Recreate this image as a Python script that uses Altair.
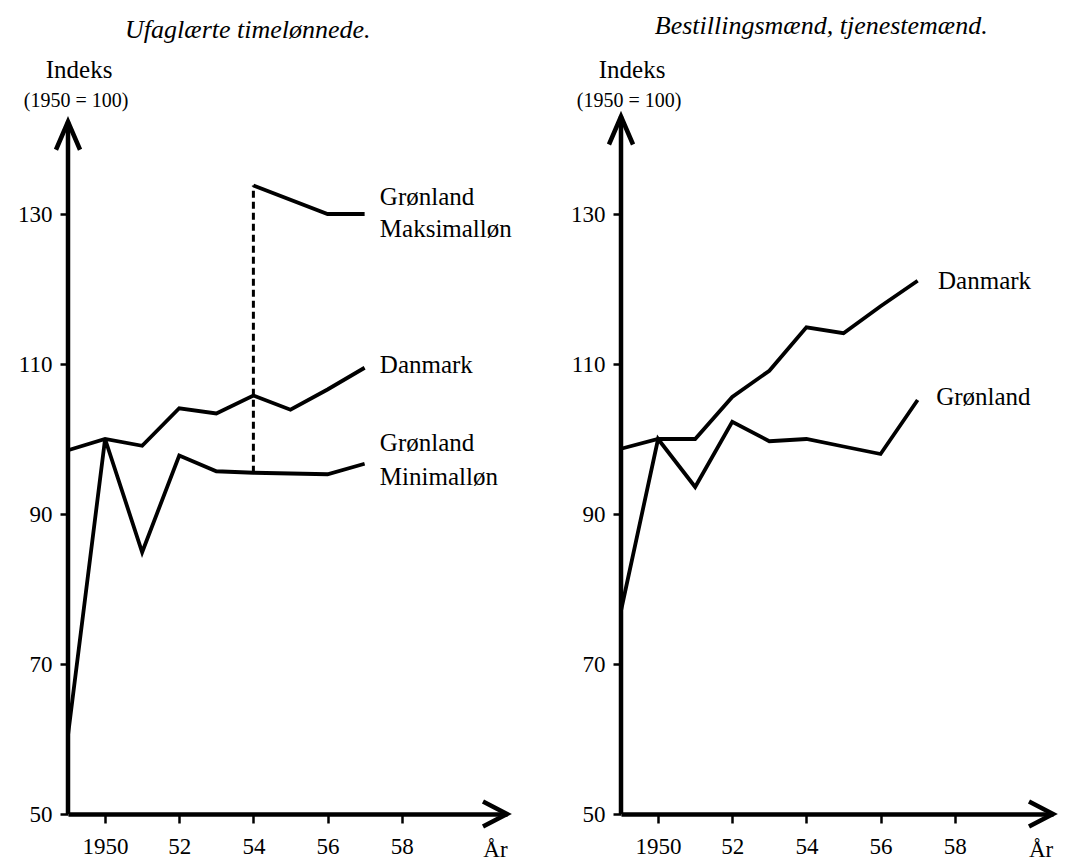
import altair as alt
import pandas as pd

# ---------------- data ----------------
years = [1949, 1950, 1951, 1952, 1953, 1954, 1955, 1956, 1957]

# Left panel: Ufaglærte timelønnede
ufag_danmark = [98.5, 100.0, 99.1, 104.1, 103.4, 105.8, 103.9, 106.6, 109.5]
ufag_gl_min = [60.5, 100.0, 84.9, 97.8, 95.7, 95.5, 95.4, 95.3, 96.7]
ufag_gl_max_years = [1954, 1956, 1957]
ufag_gl_max = [133.8, 130.0, 130.0]

# Right panel: Bestillingsmænd, tjenestemænd
best_danmark = [98.7, 100.0, 100.0, 105.6, 109.1, 114.9, 114.1, 117.7, 121.1]
best_gl = [77.1, 100.0, 93.6, 102.3, 99.7, 100.0, 99.0, 98.0, 105.2]

y_ticks = [50, 70, 90, 110, 130]
x_ticks = [1950, 1952, 1954, 1956, 1958]

FONT = "Liberation Serif"
YMIN = 50
YTOP = 50 + 800 / 7.5
H = 800


def panel(series, labels, title, title_xy, xmax, width, arrow_top, ar_x, dashed=None):
    xs = alt.Scale(domain=[1949, xmax], nice=False, zero=False)
    ys = alt.Scale(domain=[YMIN, YTOP], nice=False, zero=False)
    xaxis = alt.Axis(
        values=x_ticks,
        labelExpr="datum.value == 1950 ? '1950' : substring(toString(datum.value), 2)",
        domainWidth=4.5, domainColor="black", tickSize=9, tickWidth=2.5,
        tickColor="black", labelPadding=12, title=None, grid=False,
        labelFont=FONT, labelFontSize=23, labelColor="black")
    yaxis = alt.Axis(
        values=y_ticks, domain=False, tickSize=8, tickWidth=2.5,
        tickColor="black", labelPadding=8, title=None, grid=False,
        labelFont=FONT, labelFontSize=23, labelColor="black")

    def X(f):
        return alt.X(f, scale=xs, axis=xaxis)

    def Y(f):
        return alt.Y(f, scale=ys, axis=yaxis)

    rows = []
    for name, xv, yv in series:
        for a, b in zip(xv, yv):
            rows.append({"year": a, "value": b, "series": name})
    df = pd.DataFrame(rows)

    lines = alt.Chart(df).mark_line(
        color="black", strokeWidth=3.8, strokeJoin="miter", strokeCap="butt"
    ).encode(x=X("year:Q"), y=Y("value:Q"), detail="series:N")

    layers = [lines]

    # y axis line with arrow
    ax = pd.DataFrame({"year": [1949], "value": [YMIN], "y1": [arrow_top]})
    layers.append(alt.Chart(ax).mark_rule(color="black", strokeWidth=4.5).encode(
        x=X("year:Q"), y=Y("value:Q"), y2="y1:Q"))
    up = pd.DataFrame({"year": [1949], "value": [arrow_top]})
    layers.append(alt.Chart(up).mark_point(
        shape="M-0.43,1L0,0L0.43,1", size=3136, filled=False, color="black",
        strokeWidth=4.5, opacity=1, strokeJoin="miter"
    ).encode(x=X("year:Q"), y=Y("value:Q")))
    rt = pd.DataFrame({"year": [xmax], "value": [YMIN]})
    layers.append(alt.Chart(rt).mark_point(
        shape="M-1,-0.52L0,0L-1,0.52", size=2304, filled=False, color="black",
        strokeWidth=4.5, opacity=1, strokeJoin="miter"
    ).encode(x=X("year:Q"), y=Y("value:Q")))

    if dashed is not None:
        dd = pd.DataFrame({"year": [dashed[0]], "value": [dashed[1]], "y1": [dashed[2]]})
        layers.append(alt.Chart(dd).mark_rule(
            color="black", strokeWidth=3, strokeDash=[7, 4]
        ).encode(x=X("year:Q"), y=Y("value:Q"), y2="y1:Q"))

    # series labels
    lab = pd.DataFrame(labels, columns=["year", "value", "text"])
    layers.append(alt.Chart(lab).mark_text(
        align="left", baseline="middle", font=FONT, fontSize=25, color="black"
    ).encode(x=X("year:Q"), y=Y("value:Q"), text="text:N"))

    # titles and axis captions
    tt = pd.DataFrame({"year": [title_xy[0]], "value": [title_xy[1]], "text": [title]})
    layers.append(alt.Chart(tt).mark_text(
        align="center", baseline="middle", font=FONT, fontSize=26,
        fontStyle="italic", color="black"
    ).encode(x=X("year:Q"), y=Y("value:Q"), text="text:N"))
    ind = pd.DataFrame({"year": [1949.3], "value": [149.2], "text": ["Indeks"]})
    layers.append(alt.Chart(ind).mark_text(
        align="center", baseline="middle", font=FONT, fontSize=25, color="black"
    ).encode(x=X("year:Q"), y=Y("value:Q"), text="text:N"))
    base = pd.DataFrame({"year": [1949.22], "value": [145.1], "text": ["(1950 = 100)"]})
    layers.append(alt.Chart(base).mark_text(
        align="center", baseline="middle", font=FONT, fontSize=20, color="black"
    ).encode(x=X("year:Q"), y=Y("value:Q"), text="text:N"))
    aar = pd.DataFrame({"year": [ar_x], "value": [45.2], "text": ["År"]})
    layers.append(alt.Chart(aar).mark_text(
        align="left", baseline="middle", font=FONT, fontSize=23, color="black"
    ).encode(x=X("year:Q"), y=Y("value:Q"), text="text:N"))

    return alt.layer(*layers).properties(width=width, height=H)


left = panel(
    series=[("Danmark", years, ufag_danmark),
            ("Grønland Minimalløn", years, ufag_gl_min),
            ("Grønland Maksimalløn", ufag_gl_max_years, ufag_gl_max)],
    labels=[(1957.41, 132.3, "Grønland"), (1957.41, 128.0, "Maksimalløn"),
            (1957.41, 109.9, "Danmark"), (1957.41, 99.5, "Grønland"),
            (1957.41, 94.9, "Minimalløn")],
    title="Ufaglærte timelønnede.",
    title_xy=(1953.85, 154.5),
    xmax=1960.84, width=439, arrow_top=142.3, ar_x=1960.2,
    dashed=(ufag_gl_max_years[0], ufag_gl_min[years.index(1954)], ufag_gl_max[0]),
)

right = panel(
    series=[("Danmark", years, best_danmark),
            ("Grønland", years, best_gl)],
    labels=[(1957.55, 121.1, "Danmark"), (1957.5, 105.6, "Grønland")],
    title="Bestillingsmænd, tjenestemænd.",
    title_xy=(1954.4, 155.1),
    xmax=1960.65, width=432, arrow_top=143.0, ar_x=1960.0,
)

chart = alt.hconcat(left, right, spacing=54).properties(
    padding={"left": 9, "top": 4, "right": 0, "bottom": 0}
).configure_view(stroke=None)

chart.save("out.html", embed_options={"renderer": "svg", "actions": False})
